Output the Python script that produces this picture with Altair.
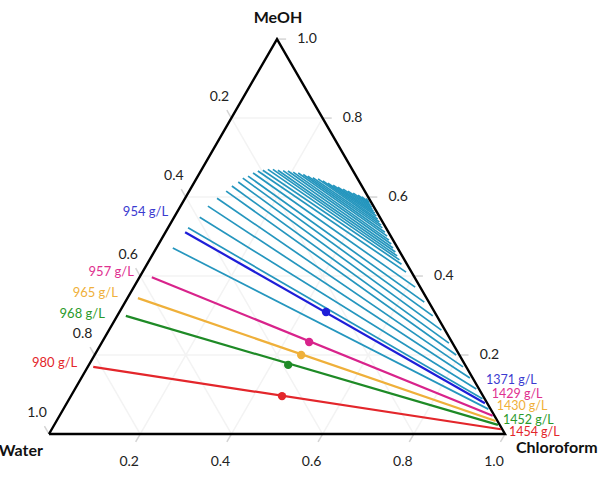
import math
import altair as alt
import pandas as pd

# ---------------- data (ternary mass fractions) ----------------
tick_values = [0.2, 0.4, 0.6, 0.8, 1.0]

# highlighted tie lines (bottom to top)
hl_left_label = ["980 g/L", "968 g/L", "965 g/L", "957 g/L", "954 g/L"]
hl_right_label = ["1454 g/L", "1452 g/L", "1430 g/L", "1429 g/L", "1371 g/L"]
hl_left_meoh = [0.170, 0.299, 0.344, 0.397, 0.511]
hl_left_chcl3 = [0.012, 0.019, 0.023, 0.027, 0.043]
hl_right_meoh = [0.012, 0.023, 0.033, 0.046, 0.078]
hl_right_chcl3 = [0.985, 0.973, 0.963, 0.950, 0.917]
hl_mix_meoh = [0.096, 0.175, 0.200, 0.233, 0.309]
hl_mix_chcl3 = [0.463, 0.437, 0.453, 0.454, 0.453]

# other tie lines: water-rich end (MeOH, CHCl3) and chloroform-rich end (MeOH, water)
tie_left_meoh = [0.000, 0.471, 0.522, 0.549, 0.577, 0.597, 0.615, 0.628, 0.638, 0.648,
                 0.653, 0.661, 0.666, 0.668, 0.670, 0.670, 0.668, 0.667, 0.666, 0.663,
                 0.661, 0.657, 0.653, 0.649, 0.646, 0.641, 0.635, 0.630, 0.625, 0.620,
                 0.615, 0.610, 0.605, 0.600, 0.596]
tie_left_chcl3 = [0.000, 0.036, 0.044, 0.056, 0.060, 0.070, 0.081, 0.087, 0.096, 0.101,
                  0.110, 0.117, 0.125, 0.135, 0.145, 0.156, 0.168, 0.180, 0.191, 0.204,
                  0.216, 0.229, 0.241, 0.254, 0.267, 0.280, 0.294, 0.308, 0.321, 0.335,
                  0.348, 0.362, 0.375, 0.386, 0.397]
tie_right_meoh = [0.000, 0.063, 0.089, 0.114, 0.142, 0.170, 0.200, 0.230, 0.263, 0.299,
                  0.334, 0.372, 0.410, 0.430, 0.441, 0.451, 0.461, 0.471, 0.481, 0.491,
                  0.501, 0.511, 0.522, 0.529, 0.537, 0.544, 0.552, 0.559, 0.565, 0.570,
                  0.575, 0.580, 0.585, 0.587, 0.590]
tie_right_water = [0.000, 0.005, 0.005, 0.006, 0.006, 0.007, 0.007, 0.008, 0.008, 0.009,
                   0.010, 0.011, 0.012, 0.012, 0.011, 0.011, 0.010, 0.010, 0.009, 0.009,
                   0.008, 0.008, 0.008, 0.007, 0.007, 0.007, 0.006, 0.006, 0.006, 0.006,
                   0.005, 0.005, 0.005, 0.005, 0.005]

# ---------------- styles ----------------
hl_colors = ["#e3262b", "#1e8a26", "#efb03a", "#d8238b", "#1e1ed8"]
hl_label_colors = ["#e3262b", "#2a9a2a", "#efb03a", "#e0308f", "#3b3bd0"]
left_offsets = [(-16, -4), (-21, -2), (-20, -5), (-18, -5), (-17, -20)]
right_offsets = [(8, 3), (5, -5), (1, -15), (-1, -22), (1, -23)]
CYAN = "#2596be"
FONT = "Lato"

S3 = math.sqrt(3) / 2


def to_xy(meoh, chcl3):
    return chcl3 + meoh / 2, meoh * S3


xs = alt.Scale(domain=[-49 / 456, 559 / 456], nice=False, zero=False)
ys = alt.Scale(domain=[-55 / 456, 434 / 456], nice=False, zero=False)


def X(f="x"):
    return alt.X(f + ":Q", scale=xs, axis=None)


def Y(f="y"):
    return alt.Y(f + ":Q", scale=ys, axis=None)


# grid lines and ticks
grid_rows, tick_rows = [], []
d = 0.02
for v in tick_values:
    if v < 1.0:
        a = to_xy(v, 0.0); b = to_xy(v, 1 - v)
        grid_rows.append(dict(x=a[0], y=a[1], x2=b[0], y2=b[1]))
        a = to_xy(1 - v, 0.0); b = to_xy(0.0, 1 - v)
        grid_rows.append(dict(x=a[0], y=a[1], x2=b[0], y2=b[1]))
        a = to_xy(0.0, v); b = to_xy(1 - v, v)
        grid_rows.append(dict(x=a[0], y=a[1], x2=b[0], y2=b[1]))
    lab = f"{v:.1f}"
    a = to_xy(v, 1 - v); b = to_xy(v, 1 - v + d)
    tick_rows.append(dict(x=a[0], y=a[1], x2=b[0], y2=b[1], ax="m", label=lab))
    a = to_xy(1 - v, 0.0); b = to_xy(1 - v + d, -d)
    tick_rows.append(dict(x=a[0], y=a[1], x2=b[0], y2=b[1], ax="w", label=lab))
    a = to_xy(0.0, v); b = to_xy(-d, v)
    tick_rows.append(dict(x=a[0], y=a[1], x2=b[0], y2=b[1], ax="c", label=lab))

grid_df = pd.DataFrame(grid_rows)
tick_df = pd.DataFrame(tick_rows)

tie_rows = []
for lm, lc, rm, rw in zip(tie_left_meoh, tie_left_chcl3, tie_right_meoh, tie_right_water):
    a = to_xy(lm, lc); b = to_xy(rm, 1 - rm - rw)
    tie_rows.append(dict(x=a[0], y=a[1], x2=b[0], y2=b[1]))
tie_df = pd.DataFrame(tie_rows)

hl_rows = []
for i in range(len(hl_left_label)):
    a = to_xy(hl_left_meoh[i], hl_left_chcl3[i])
    b = to_xy(hl_right_meoh[i], hl_right_chcl3[i])
    m = to_xy(hl_mix_meoh[i], hl_mix_chcl3[i])
    hl_rows.append(dict(x=a[0], y=a[1], x2=b[0], y2=b[1], xm=m[0], ym=m[1],
                        left=hl_left_label[i], right=hl_right_label[i], k=str(i)))
hl_df = pd.DataFrame(hl_rows)

tri = []
for i, (m, c) in enumerate([(0, 0), (0, 1), (1, 0), (0, 0)]):
    p = to_xy(m, c)
    tri.append(dict(x=p[0], y=p[1], o=i))
tri_df = pd.DataFrame(tri)

layers = []
layers.append(alt.Chart(grid_df).mark_rule(color="#f3f3f3", strokeWidth=1.5).encode(
    x=X(), y=Y(), x2="x2:Q", y2="y2:Q"))
layers.append(alt.Chart(tick_df).mark_rule(color="#d4d4d4", strokeWidth=1.5).encode(
    x=X(), y=Y(), x2="x2:Q", y2="y2:Q"))
layers.append(alt.Chart(tie_df).mark_rule(color=CYAN, strokeWidth=1.7).encode(
    x=X(), y=Y(), x2="x2:Q", y2="y2:Q"))
layers.append(alt.Chart(tri_df).mark_line(color="#000000", strokeWidth=2.4, strokeJoin="miter").encode(
    x=X(), y=Y(), order="o:Q"))
color_scale = alt.Scale(domain=[str(i) for i in range(5)], range=hl_colors)
layers.append(alt.Chart(hl_df).mark_rule(strokeWidth=2.2).encode(
    x=X(), y=Y(), x2="x2:Q", y2="y2:Q", color=alt.Color("k:N", scale=color_scale, legend=None)))
layers.append(alt.Chart(hl_df).mark_circle(size=70, opacity=1).encode(
    x=X("xm"), y=Y("ym"), color=alt.Color("k:N", scale=color_scale, legend=None)))

for i in range(5):
    sub = hl_df.iloc[[i]]
    dx, dy = left_offsets[i]
    layers.append(alt.Chart(sub).mark_text(align="right", baseline="middle", dx=dx, dy=dy,
                                           font=FONT, fontSize=13, color=hl_label_colors[i]).encode(
        x=X(), y=Y(), text="left:N"))
    dx, dy = right_offsets[i]
    layers.append(alt.Chart(sub).mark_text(align="left", baseline="middle", dx=dx, dy=dy,
                                           font=FONT, fontSize=12.5, color=hl_label_colors[i]).encode(
        x=X("x2"), y=Y("y2"), text="right:N"))

# tick labels
for axname, dx, dy in [("m", 30, 0), ("w", -12, -21), ("c", -11, 28)]:
    sub = tick_df[tick_df["ax"] == axname]
    layers.append(alt.Chart(sub).mark_text(align="center", baseline="middle", dx=dx, dy=dy,
                                           font=FONT, fontSize=14, color="#222222").encode(
        x=X(), y=Y(), text="label:N"))

# vertex titles
vert_df = pd.DataFrame([
    dict(x=to_xy(1, 0)[0], y=to_xy(1, 0)[1], t="MeOH"),
    dict(x=to_xy(0, 0)[0], y=to_xy(0, 0)[1], t="Water"),
    dict(x=to_xy(0, 1)[0], y=to_xy(0, 1)[1], t="Chloroform"),
])
layers.append(alt.Chart(vert_df.iloc[[0]]).mark_text(align="center", baseline="middle", dx=1, dy=-21,
                                                    font=FONT, fontSize=16, fontWeight="bold",
                                                    color="#111111").encode(x=X(), y=Y(), text="t:N"))
layers.append(alt.Chart(vert_df.iloc[[1]]).mark_text(align="right", baseline="middle", dx=-6, dy=17,
                                                    font=FONT, fontSize=16, fontWeight="bold",
                                                    color="#111111").encode(x=X(), y=Y(), text="t:N"))
layers.append(alt.Chart(vert_df.iloc[[2]]).mark_text(align="left", baseline="middle", dx=11, dy=14,
                                                    font=FONT, fontSize=16, fontWeight="bold",
                                                    color="#111111").encode(x=X(), y=Y(), text="t:N"))

chart = alt.layer(*layers).properties(
    width=608, height=489, autosize=alt.AutoSizeParams(type="none"), padding=0,
    background="white"
).configure_view(stroke=None)

chart.save("out.html", embed_options={"renderer": "svg", "actions": False})
